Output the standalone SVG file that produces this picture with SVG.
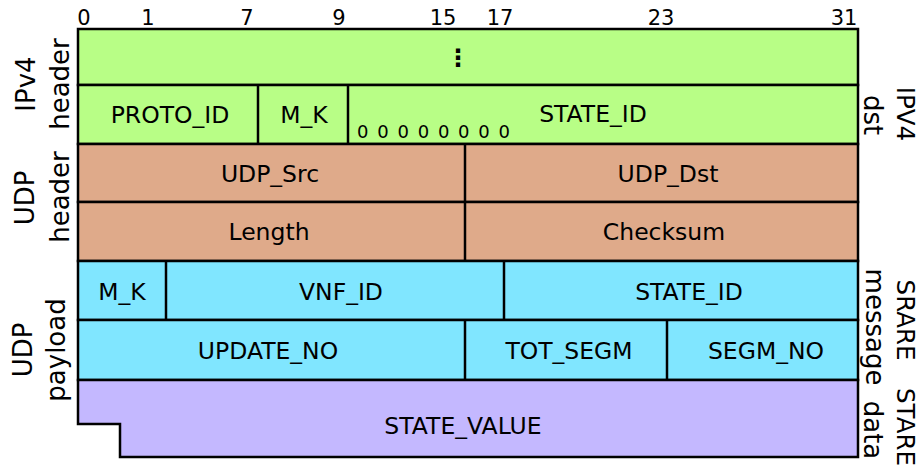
<svg xmlns="http://www.w3.org/2000/svg" width="922" height="471" viewBox="0 0 922 471">
  <style>
    text { font-family: "DejaVu Sans", Verdana, sans-serif; fill: #000; }
    .cell { stroke: #000; stroke-width: 2.5; }
    .ipv4 { fill: #b8fe86; }
    .udp { fill: #dfaa8a; }
    .msg { fill: #80e6ff; }
    .data { fill: #c4b8ff; }
    .div { stroke: #000; stroke-width: 2.5; fill: none; }
    .lbl { font-size: 23.5px; text-anchor: middle; }
    .bit { font-size: 21px; text-anchor: middle; }
    .side { font-size: 26px; text-anchor: middle; }
    .sidecap { font-size: 24.5px; text-anchor: middle; }
  </style>

  <!-- bit offsets -->
  <g id="bit-scale">
    <text class="bit" x="84" y="25">0</text>
    <text class="bit" x="148" y="25">1</text>
    <text class="bit" x="247" y="25">7</text>
    <text class="bit" x="339" y="25">9</text>
    <text class="bit" x="443" y="25">15</text>
    <text class="bit" x="500" y="25">17</text>
    <text class="bit" x="661" y="25">23</text>
    <text class="bit" x="844" y="25">31</text>
  </g>

  <!-- IPv4 header rows -->
  <g id="ipv4-rest">
    <rect class="cell ipv4" x="78" y="29" width="780" height="56"/>
    <text x="458" y="66" style="font-size:24px;font-weight:bold;text-anchor:middle">⋮</text>
  </g>
  <g id="ipv4-dst">
    <rect class="cell ipv4" x="78" y="85" width="780" height="59"/>
  </g>
  <g id="proto-id">
    <text class="lbl" x="170" y="123">PROTO_ID</text>
  </g>
  <g id="ipv4-mk">
    <text class="lbl" x="304" y="123">M_K</text>
  </g>
  <g id="ipv4-state-id">
    <text class="lbl" x="593" y="122">STATE_ID</text>
    <text x="357" y="138" textLength="153" lengthAdjust="spacing" style="font-size:18px">0 0 0 0 0 0 0 0</text>
  </g>

  <!-- UDP header rows -->
  <g id="udp-ports">
    <rect class="cell udp" x="78" y="144" width="780" height="58"/>
    <text class="lbl" x="270" y="182">UDP_Src</text>
    <text class="lbl" x="668" y="182">UDP_Dst</text>
  </g>
  <g id="udp-len">
    <rect class="cell udp" x="78" y="202" width="780" height="59"/>
    <text class="lbl" x="269" y="240">Length</text>
    <text class="lbl" x="664" y="240">Checksum</text>
  </g>

  <!-- message rows -->
  <g id="msg-ids">
    <rect class="cell msg" x="78" y="261" width="780" height="59"/>
    <text class="lbl" x="122" y="300">M_K</text>
    <text class="lbl" x="341" y="300">VNF_ID</text>
    <text class="lbl" x="689" y="300">STATE_ID</text>
  </g>
  <g id="msg-seq">
    <rect class="cell msg" x="78" y="320" width="780" height="60"/>
    <text class="lbl" x="268" y="359">UPDATE_NO</text>
    <text class="lbl" x="569" y="359">TOT_SEGM</text>
    <text class="lbl" x="766" y="359">SEGM_NO</text>
  </g>

  <!-- state data -->
  <g id="state-value">
    <path class="cell data" d="M78,380 H858 V457 H120 V424 H78 Z"/>
    <text class="lbl" x="463" y="434">STATE_VALUE</text>
  </g>

  <!-- field dividers -->
  <g id="connectors">
    <line class="div" x1="258" y1="85" x2="258" y2="144"/>
    <line class="div" x1="348" y1="85" x2="348" y2="144"/>
    <line class="div" x1="465" y1="144" x2="465" y2="261"/>
    <line class="div" x1="166" y1="261" x2="166" y2="320"/>
    <line class="div" x1="504" y1="261" x2="504" y2="320"/>
    <line class="div" x1="465" y1="320" x2="465" y2="380"/>
    <line class="div" x1="667" y1="320" x2="667" y2="380"/>
  </g>

  <!-- layer captions, left -->
  <g id="cap-ipv4">
    <text class="side" transform="translate(35,84) rotate(-90)">IPv4</text>
    <text class="side" transform="translate(69,84) rotate(-90)">header</text>
  </g>
  <g id="cap-udp-header">
    <text class="side" transform="translate(34,198) rotate(-90)">UDP</text>
    <text class="side" transform="translate(69,197) rotate(-90)">header</text>
  </g>
  <g id="cap-udp-payload">
    <text class="side" transform="translate(32,350) rotate(-90)">UDP</text>
    <text class="side" transform="translate(65,350) rotate(-90)">payload</text>
  </g>

  <!-- layer captions, right -->
  <g id="cap-ipv4-dst">
    <text class="sidecap" transform="translate(897,114) rotate(90)">IPV4</text>
    <text class="side" transform="translate(864,115) rotate(90)">dst</text>
  </g>
  <g id="cap-message">
    <text class="sidecap" transform="translate(897,320) rotate(90)">SRARE</text>
    <text class="side" transform="translate(866,327) rotate(90)">message</text>
  </g>
  <g id="cap-data">
    <text class="sidecap" transform="translate(897,427) rotate(90)">STARE</text>
    <text class="side" transform="translate(864,430) rotate(90)">data</text>
  </g>
</svg>
